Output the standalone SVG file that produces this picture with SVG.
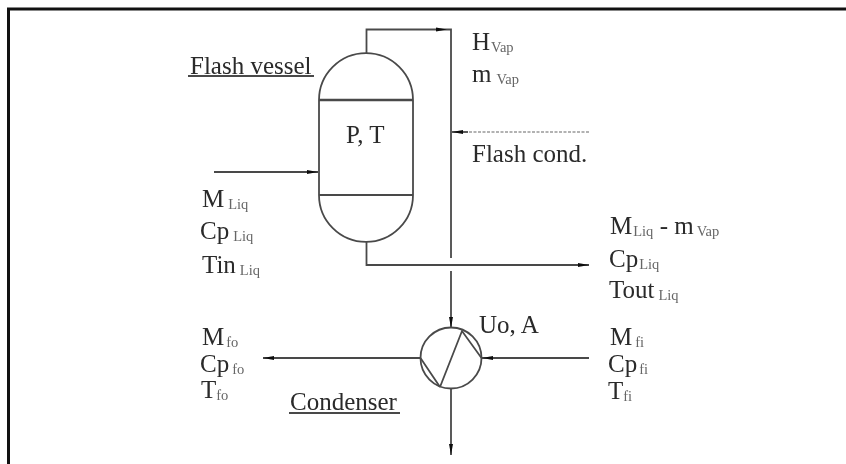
<svg xmlns="http://www.w3.org/2000/svg" width="846" height="464" viewBox="0 0 846 464">
<style>
.l{fill:none;stroke:#4a4a4a;stroke-width:1.8}
.d{fill:none;stroke:#999;stroke-width:1.5;stroke-dasharray:3 1.5}
.t{font-family:"Liberation Serif",serif;font-size:25px;fill:#2a2a2a}
.s{font-size:14.500px;fill:#666}
</style>
<defs>
<filter id="soft" filterUnits="userSpaceOnUse" x="0" y="0" width="846" height="464"><feGaussianBlur stdDeviation="0.6"/></filter>
<marker id="a" markerWidth="12" markerHeight="6" refX="11" refY="3" orient="auto" markerUnits="userSpaceOnUse"><path d="M0 1L11 3L0 5z" fill="#111"/></marker>
</defs>
<rect width="846" height="464" fill="#fff"/>
<path d="M8.500 464V9H846" fill="none" stroke="#111" stroke-width="3"/>
<g id="connectors" filter="url(#soft)">
<path class="l" d="M366.500 53V29.500H447" marker-end="url(#a)"/>
<path class="l" d="M447 29.500H451V258"/>
<path class="l" d="M214 172H318" marker-end="url(#a)"/>
<path class="d" d="M589 132H468"/>
<path class="l" d="M468 132H452" marker-end="url(#a)"/>
<path class="l" d="M366.500 242V265H589" marker-end="url(#a)"/>
<path class="l" d="M451 271V328" marker-end="url(#a)"/>
<path class="l" d="M420 358H263" marker-end="url(#a)"/>
<path class="l" d="M589 358H482" marker-end="url(#a)"/>
<path class="l" d="M451 388V455" marker-end="url(#a)"/>
</g>
<g id="flash-vessel" filter="url(#soft)">
<path class="l" d="M319 100A47 47 0 0 1 413 100V195A47 47 0 0 1 319 195Z"/>
<path class="l" style="stroke-width:2.4" d="M319 100H413"/>
<path class="l" d="M319 195H413"/>
<text class="t" x="346" y="143">P, T</text>
<text class="t" x="190" y="74">Flash vessel</text>
<path class="l" d="M188 76H314"/>
</g>
<g id="condenser" filter="url(#soft)">
<circle class="l" cx="451" cy="358" r="30.500"/>
<path class="l" d="M440 387L462 331L481.500 358M420.500 358L440 387"/>
<text class="t" x="479" y="333">Uo, A</text>
<text class="t" x="290" y="410">Condenser</text>
<path class="l" d="M289 413H400"/>
</g>
<g id="labels" filter="url(#soft)">
<text class="t" x="472" y="50">H<tspan class="s" dx="1" dy="2">Vap</tspan></text>
<text class="t" x="472" y="82">m<tspan class="s" dx="5" dy="2">Vap</tspan></text>
<text class="t" x="472" y="162">Flash cond.</text>
<text class="t" x="202" y="207">M<tspan class="s" dx="4" dy="2">Liq</tspan></text>
<text class="t" x="200" y="239">Cp<tspan class="s" dx="4" dy="2">Liq</tspan></text>
<text class="t" x="202" y="273">Tin<tspan class="s" dx="4" dy="2">Liq</tspan></text>
<text class="t" x="610" y="234">M<tspan class="s" dx="1" dy="2">Liq</tspan><tspan dy="-2"> - m</tspan><tspan class="s" dx="3" dy="2">Vap</tspan></text>
<text class="t" x="609" y="267">Cp<tspan class="s" dx="1" dy="2">Liq</tspan></text>
<text class="t" x="609" y="298">Tout<tspan class="s" dx="4" dy="2">Liq</tspan></text>
<text class="t" x="202" y="345">M<tspan class="s" dx="2" dy="2">fo</tspan></text>
<text class="t" x="200" y="372">Cp<tspan class="s" dx="3" dy="2">fo</tspan></text>
<text class="t" x="201" y="398">T<tspan class="s" dy="2">fo</tspan></text>
<text class="t" x="610" y="345">M<tspan class="s" dx="3" dy="2">fi</tspan></text>
<text class="t" x="608" y="372">Cp<tspan class="s" dx="2" dy="2">fi</tspan></text>
<text class="t" x="608" y="399">T<tspan class="s" dy="2">fi</tspan></text>
</g>
</svg>
